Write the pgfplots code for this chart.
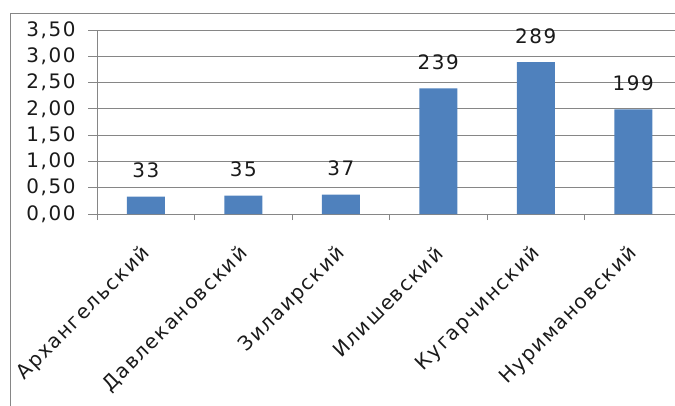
\documentclass[border=0pt]{standalone}
\usepackage{pgfplots}
\pgfplotsset{compat=1.18}
\usepackage{pgfplotstable}
\usepackage{fontspec}
\setmainfont{DejaVu Sans}
\newfontfamily\lblfont[LetterSpace=8]{DejaVu Sans}
\definecolor{barblue}{HTML}{4F81BD}
\definecolor{gridgray}{HTML}{868686}
\definecolor{txt}{HTML}{1A1A1A}

% x = position of the district, y = bar height, lab = printed label
\pgfplotstableread{
x y lab
0 0.33 33
1 0.35 35
2 0.37 37
3 2.39 239
4 2.89 289
5 1.99 199
}\districts

\begin{document}
\begin{tikzpicture}[x=1bp,y=1bp]
\useasboundingbox (0,0) rectangle (675,405);
% chart frame: only its left and top sides fall inside the picture
\draw[gridgray, line width=0.9bp] (10.5,-10) -- (10.5,392) -- (690,392);
\begin{axis}[
  at={(97bp,191bp)}, anchor=south west,
  scale only axis, width=585bp, height=184bp,
  xmin=-0.5, xmax=5.5, ymin=0, ymax=3.5,
  ytick={0,0.5,...,3.5},
  ymajorgrids, grid style={gridgray, line width=0.9bp},
  axis x line*=bottom, axis y line*=left,
  axis line style={gridgray, line width=0.9bp},
  tick align=outside,
  xtick={0,...,5},
  xtick style={/pgfplots/major tick length=0pt},
  minor xtick={-0.5,0.5,...,5.5},
  minor tick length=6bp,
  ytick style={/pgfplots/major tick length=9bp},
  every tick/.style={gridgray, line width=0.9bp},
  xticklabels={Архангельский, Давлекановский, Зилаирский, Илишевский, Кугарчинский, Нуримановский},
  ticklabel style={font=\lblfont\fontsize{20}{24}\selectfont, text=txt},
  xticklabel style={xshift=1bp, yshift=-32bp, rotate=45, anchor=east, inner sep=0pt},
  yticklabel style={inner sep=0pt, xshift=-17bp,
    /pgf/number format/fixed, /pgf/number format/fixed zerofill,
    /pgf/number format/precision=2, /pgf/number format/use comma,
    /pgf/number format/assume math mode=true},
  ybar, bar width=38bp,
  nodes near coords, point meta=explicit symbolic,
  every node near coord/.append style={font=\lblfont\fontsize{20}{24}\selectfont, text=txt, yshift=15bp},
]
\addplot[fill=barblue, draw=none] table[x=x, y=y, meta=lab] {\districts};
\end{axis}
\end{tikzpicture}
\end{document}
